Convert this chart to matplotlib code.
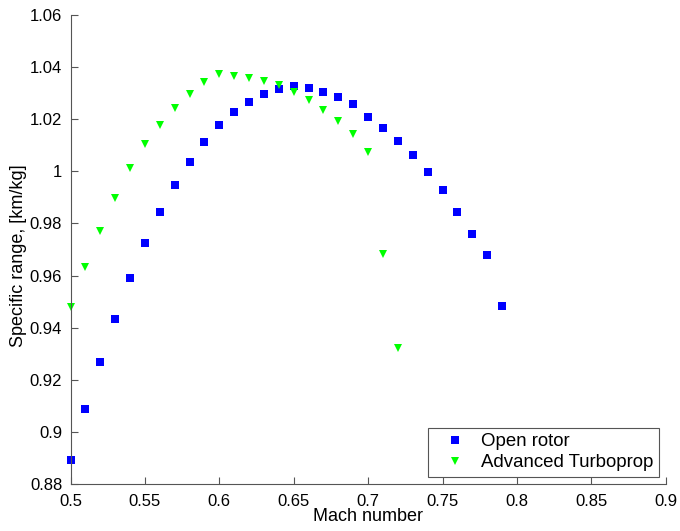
import numpy as np
import matplotlib.pyplot as plt

plt.rcParams['font.family'] = ['Liberation Sans', 'DejaVu Sans']

# Mach number sweep, 0.01 steps
mach_rotor = [0.50, 0.51, 0.52, 0.53, 0.54, 0.55, 0.56, 0.57, 0.58, 0.59,
              0.60, 0.61, 0.62, 0.63, 0.64, 0.65, 0.66, 0.67, 0.68, 0.69,
              0.70, 0.71, 0.72, 0.73, 0.74, 0.75, 0.76, 0.77, 0.78, 0.79]
sr_rotor = [0.8892, 0.9088, 0.9268, 0.9434, 0.9589, 0.9725, 0.9844, 0.9949, 1.0036, 1.0114,
            1.0178, 1.0228, 1.0267, 1.0297, 1.0315, 1.0326, 1.0319, 1.0306, 1.0285, 1.0257,
            1.0210, 1.0166, 1.0115, 1.0062, 0.9997, 0.9930, 0.9843, 0.9758, 0.9678, 0.9484]

mach_tprop = [0.50, 0.51, 0.52, 0.53, 0.54, 0.55, 0.56, 0.57, 0.58, 0.59,
              0.60, 0.61, 0.62, 0.63, 0.64, 0.65, 0.66, 0.67, 0.68, 0.69,
              0.70, 0.71, 0.72]
sr_tprop = [0.9480, 0.9634, 0.9772, 0.9899, 1.0012, 1.0104, 1.0178, 1.0243, 1.0296, 1.0343,
            1.0372, 1.0367, 1.0358, 1.0348, 1.0330, 1.0303, 1.0275, 1.0237, 1.0192, 1.0142,
            1.0075, 0.9683, 0.9323]

xticks = [0.5, 0.55, 0.6, 0.65, 0.7, 0.75, 0.8, 0.85, 0.9]
yticks = [0.88, 0.9, 0.92, 0.94, 0.96, 0.98, 1.0, 1.02, 1.04, 1.06]
ylabels = ['0.88', '0.9', '0.92', '0.94', '0.96', '0.98', '1', '1.02', '1.04', '1.06']

fig = plt.figure(figsize=(6.8, 5.31), dpi=100)
ax = fig.add_axes([0.1037, 0.0885, 0.8753, 0.8833])

ax.plot(mach_rotor, sr_rotor, 's', color='#0000ff', markersize=5.1,
        markeredgewidth=0, label='Open rotor', clip_on=False)
ax.plot(mach_tprop, sr_tprop, 'v', color='#00ff00', markersize=6.3,
        markeredgewidth=0, label='Advanced Turboprop', clip_on=False)

ax.set_xlim(0.5, 0.9)
ax.set_ylim(0.88, 1.06)
ax.set_xticks(xticks)
ax.set_xticklabels([f'{t:g}' for t in xticks])
ax.set_yticks(yticks)
ax.set_yticklabels(ylabels)

for side in ['top', 'right']:
    ax.spines[side].set_visible(False)
for side in ['left', 'bottom']:
    ax.spines[side].set_color('#555555')
    ax.spines[side].set_linewidth(0.8)
ax.tick_params(direction='in', length=5, width=0.8, color='#555555',
               labelsize=12, labelcolor='black')
ax.tick_params(axis='x', pad=7)
ax.tick_params(axis='y', pad=6)

ax.set_xlabel('Mach number', fontsize=13)
ax.set_ylabel('Specific range, [km/kg]', fontsize=13)
ax.xaxis.set_label_coords(0.5, -0.052)
ax.yaxis.set_label_coords(-0.073, 0.486)

leg = ax.legend(loc='lower right', bbox_to_anchor=(0.988, 0.015), borderaxespad=0,
                fancybox=False, framealpha=1, edgecolor='#555555', fontsize=13.4,
                handlelength=2.4, handletextpad=0.15, borderpad=0.3,
                labelspacing=0.22, numpoints=1)
leg.get_frame().set_linewidth(0.8)

fig.savefig('out.png', dpi=100)
